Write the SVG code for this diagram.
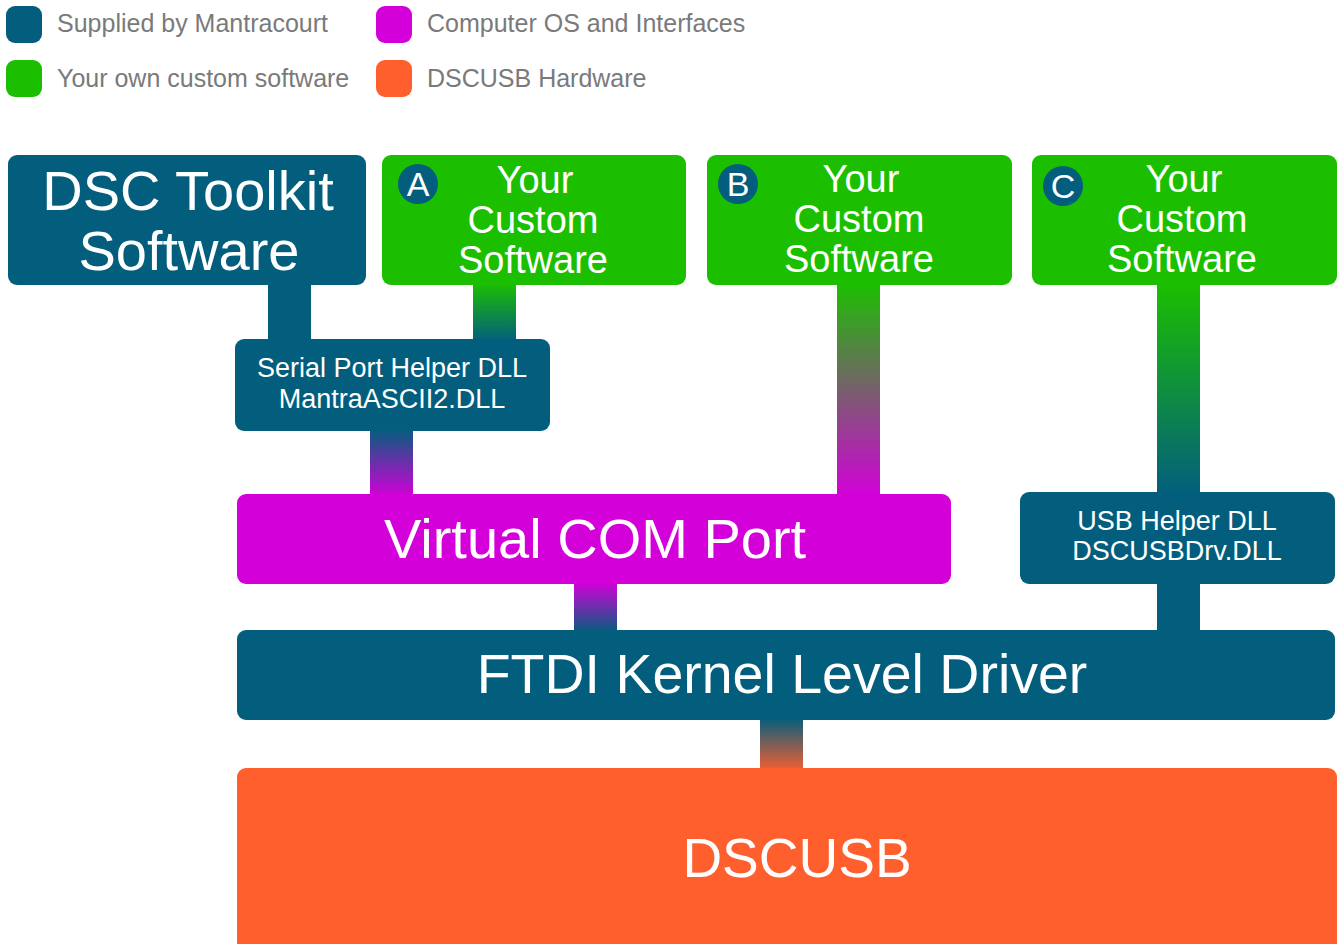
<svg xmlns="http://www.w3.org/2000/svg" width="1338" height="944" viewBox="0 0 1338 944">
<style>
.t{font-family:"Liberation Sans",Arial,sans-serif;fill:#fff;text-anchor:middle}
.lg{font-family:"Liberation Sans",Arial,sans-serif;fill:#7a7a7a;font-size:25px}
.blue{fill:#035e7d}.green{fill:#1bbf00}.purple{fill:#d300d9}.orange{fill:#ff5f2d}
</style>
<defs>
<linearGradient id="gb" x1="0" y1="0" x2="0" y2="1"><stop offset="0" stop-color="#1bbf00"/><stop offset="1" stop-color="#035e7d"/></linearGradient>
<linearGradient id="gp" x1="0" y1="0" x2="0" y2="1"><stop offset="0" stop-color="#1bbf00"/><stop offset="1" stop-color="#d300d9"/></linearGradient>
<linearGradient id="bp" x1="0" y1="0" x2="0" y2="1"><stop offset="0" stop-color="#035e7d"/><stop offset="1" stop-color="#d300d9"/></linearGradient>
<linearGradient id="pb" x1="0" y1="0" x2="0" y2="1"><stop offset="0" stop-color="#d300d9"/><stop offset="1" stop-color="#035e7d"/></linearGradient>
<linearGradient id="bo" x1="0" y1="0" x2="0" y2="1"><stop offset="0" stop-color="#035e7d"/><stop offset="1" stop-color="#ff5f2d"/></linearGradient>
</defs>
<g id="legend">
<rect class="blue" x="6" y="6" width="36" height="37" rx="9"/>
<text class="lg" x="57" y="32">Supplied by Mantracourt</text>
<rect class="purple" x="376" y="6" width="36" height="37" rx="9"/>
<text class="lg" x="427" y="32">Computer OS and Interfaces</text>
<rect class="green" x="6" y="60" width="36" height="37" rx="9"/>
<text class="lg" x="57" y="87">Your own custom software</text>
<rect class="orange" x="376" y="60" width="36" height="37" rx="9"/>
<text class="lg" x="427" y="87">DSCUSB Hardware</text>
</g>
<g id="connectors">
<rect class="blue" x="268" y="283" width="43" height="58"/>
<rect fill="url(#gb)" x="473" y="283" width="43" height="58"/>
<rect fill="url(#bp)" x="370" y="429" width="43" height="68"/>
<rect fill="url(#gp)" x="837" y="283" width="43" height="214"/>
<rect fill="url(#gb)" x="1157" y="283" width="43" height="212"/>
<rect fill="url(#pb)" x="574" y="582" width="43" height="51"/>
<rect class="blue" x="1157" y="582" width="43" height="51"/>
<rect fill="url(#bo)" x="760" y="718" width="43" height="55"/>
</g>
<g id="dsc-toolkit">
<rect class="blue" x="8" y="155" width="358" height="130" rx="9"/>
<text class="t" x="188" y="210" font-size="56">DSC Toolkit</text>
<text class="t" x="189" y="270" font-size="56">Software</text>
</g>
<g id="custom-a">
<rect class="green" x="382" y="155" width="304" height="130" rx="9"/>
<circle class="blue" cx="418" cy="184" r="20"/>
<text class="t" x="418" y="196" font-size="34">A</text>
<text class="t" x="535" y="193" font-size="38">Your</text>
<text class="t" x="533" y="233" font-size="38">Custom</text>
<text class="t" x="533" y="273" font-size="38">Software</text>
</g>
<g id="custom-b">
<rect class="green" x="707" y="155" width="305" height="130" rx="9"/>
<circle class="blue" cx="738" cy="184" r="20"/>
<text class="t" x="738" y="196" font-size="34">B</text>
<text class="t" x="861" y="192" font-size="38">Your</text>
<text class="t" x="859" y="232" font-size="38">Custom</text>
<text class="t" x="859" y="272" font-size="38">Software</text>
</g>
<g id="custom-c">
<rect class="green" x="1032" y="155" width="305" height="130" rx="9"/>
<circle class="blue" cx="1063" cy="186" r="20"/>
<text class="t" x="1063" y="198" font-size="34">C</text>
<text class="t" x="1184" y="192" font-size="38">Your</text>
<text class="t" x="1182" y="232" font-size="38">Custom</text>
<text class="t" x="1182" y="272" font-size="38">Software</text>
</g>
<g id="serial-helper">
<rect class="blue" x="235" y="339" width="315" height="92" rx="9"/>
<text class="t" x="392" y="377" font-size="27">Serial Port Helper DLL</text>
<text class="t" x="392" y="408" font-size="27">MantraASCII2.DLL</text>
</g>
<g id="virtual-com">
<rect class="purple" x="237" y="494" width="714" height="90" rx="9"/>
<text class="t" x="595" y="558" font-size="56">Virtual COM Port</text>
</g>
<g id="usb-helper">
<rect class="blue" x="1020" y="492" width="315" height="92" rx="9"/>
<text class="t" x="1177" y="530" font-size="27">USB Helper DLL</text>
<text class="t" x="1177" y="560" font-size="27">DSCUSBDrv.DLL</text>
</g>
<g id="ftdi">
<rect class="blue" x="237" y="630" width="1098" height="90" rx="9"/>
<text class="t" x="782" y="693" font-size="55.5">FTDI Kernel Level Driver</text>
</g>
<g id="dscusb">
<rect class="orange" x="237" y="768" width="1100" height="190" rx="9"/>
<text class="t" x="797" y="877" font-size="55">DSCUSB</text>
</g>
</svg>
